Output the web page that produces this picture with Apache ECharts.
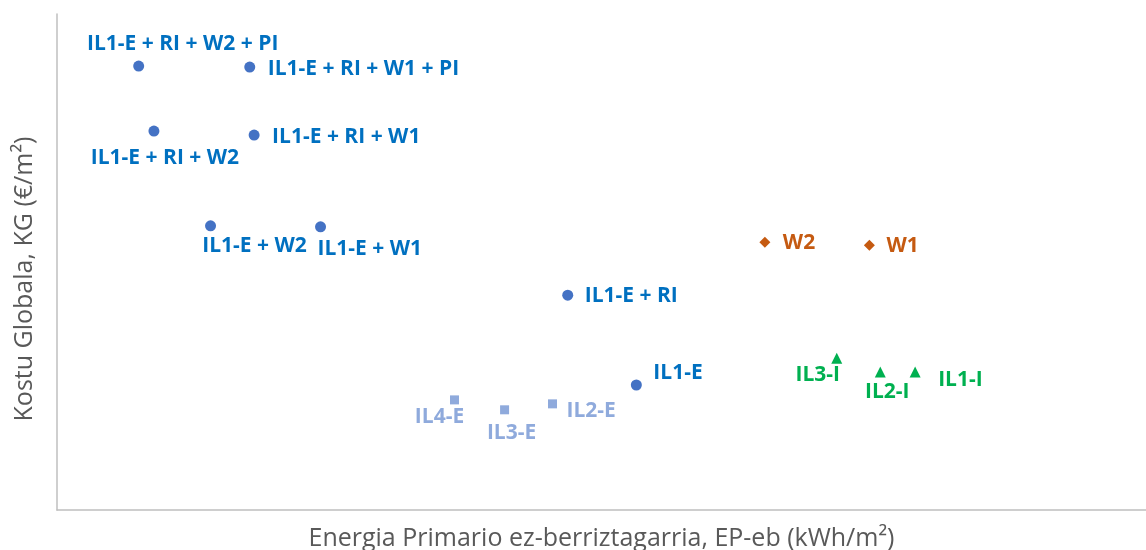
<!DOCTYPE html>
<html>
<head>
<meta charset="utf-8">
<script src="https://cdn.jsdelivr.net/npm/echarts@6/dist/echarts.min.js"></script>
<style>
  html, body { margin: 0; padding: 0; background: #fff; }
  #chart { width: 1146px; height: 550px; }
</style>
</head>
<body>
<div id="chart"></div>
<script>
// values (axes have no scale, so 0-100 relative units)
const ilENames = ['IL1-E + RI + W2 + PI', 'IL1-E + RI + W1 + PI', 'IL1-E + RI + W2', 'IL1-E + RI + W1',
                  'IL1-E + W2', 'IL1-E + W1', 'IL1-E + RI', 'IL1-E']
const ilEX = [7.5, 17.7, 8.9, 18.1, 14.1, 24.2, 46.9, 53.2]
const ilEY = [89.5, 89.3, 76.4, 75.6, 57.3, 57.1, 43.3, 25.2]

const ilxENames = ['IL4-E', 'IL3-E', 'IL2-E']
const ilxEX = [36.5, 41.1, 45.5]
const ilxEY = [22.2, 20.2, 21.4]

const wNames = ['W2', 'W1']
const wX = [65.0, 74.6]
const wY = [54.0, 53.4]

const ilINames = ['IL3-I', 'IL2-I', 'IL1-I']
const ilIX = [71.6, 75.6, 78.8]
const ilIY = [30.6, 27.8, 27.8]

// where each label sits relative to its point
const labelPos = {
  'IL1-E + RI + W2 + PI': ['center', 44, -22],
  'IL1-E + RI + W1 + PI': ['left', 18, 2],
  'IL1-E + RI + W2': ['center', 11, 27],
  'IL1-E + RI + W1': ['left', 18, 2],
  'IL1-E + W2': ['center', 44, 20],
  'IL1-E + W1': ['left', -3, 22],
  'IL1-E + RI': ['left', 17, 1],
  'IL1-E': ['left', 17, -12],
  'IL4-E': ['center', -15, 17],
  'IL3-E': ['center', 7, 23],
  'IL2-E': ['left', 14, 7],
  'W2': ['left', 18, 1],
  'W1': ['left', 17, 1],
  'IL3-I': ['center', -19, 17],
  'IL2-I': ['center', 7, 20],
  'IL1-I': ['left', 23, 8]
}

const FONT = 'Open Sans'

function makeData (names, xs, ys) {
  return names.map((n, i) => {
    const p = labelPos[n]
    return {
      name: n,
      value: [xs[i], ys[i]],
      label: { align: p[0], offset: [p[1], p[2]] }
    }
  })
}

function makeSeries (names, xs, ys, symbol, size, color, labelColor) {
  return {
    type: 'scatter',
    symbol: symbol,
    symbolSize: size,
    itemStyle: { color: color, opacity: 1 },
    label: {
      show: true,
      position: 'inside',
      verticalAlign: 'middle',
      formatter: '{b}',
      color: labelColor,
      fontFamily: FONT,
      fontWeight: 'bold',
      fontSize: 21
    },
    data: makeData(names, xs, ys)
  }
}

const chart = echarts.init(document.getElementById('chart'))

const options = {
  animation: false,
  grid: { left: 57, right: 0, top: 14, bottom: 40, outerBoundsMode: 'none' },
  xAxis: {
    type: 'value',
    min: 0,
    max: 100,
    name: 'Energia Primario ez-berriztagarria, EP-eb (kWh/m²)',
    nameLocation: 'middle',
    nameGap: 16,
    nameTextStyle: { fontFamily: FONT, fontSize: 25, color: '#595959' },
    axisLine: { show: true, lineStyle: { color: '#bfbfbf', width: 1.5 } },
    axisTick: { show: false },
    axisLabel: { show: false },
    splitLine: { show: false }
  },
  yAxis: {
    type: 'value',
    min: 0,
    max: 100,
    name: 'Kostu Globala, KG (€/m²)',
    nameLocation: 'middle',
    nameGap: 20,
    nameTextStyle: { fontFamily: FONT, fontSize: 25, color: '#595959', padding: [0, 34, 0, 0] },
    axisLine: { show: true, lineStyle: { color: '#bfbfbf', width: 1.5 } },
    axisTick: { show: false },
    axisLabel: { show: false },
    splitLine: { show: false }
  },
  series: [
    makeSeries(ilENames, ilEX, ilEY, 'circle', 11, '#4472c4', '#0070c0'),
    makeSeries(ilxENames, ilxEX, ilxEY, 'rect', 9, '#8faadc', '#8faadc'),
    makeSeries(wNames, wX, wY, 'diamond', 11, '#c55a11', '#c55a11'),
    makeSeries(ilINames, ilIX, ilIY, 'triangle', 11, '#00b050', '#00b050')
  ]
}

chart.setOption(options)
</script>
</body>
</html>
